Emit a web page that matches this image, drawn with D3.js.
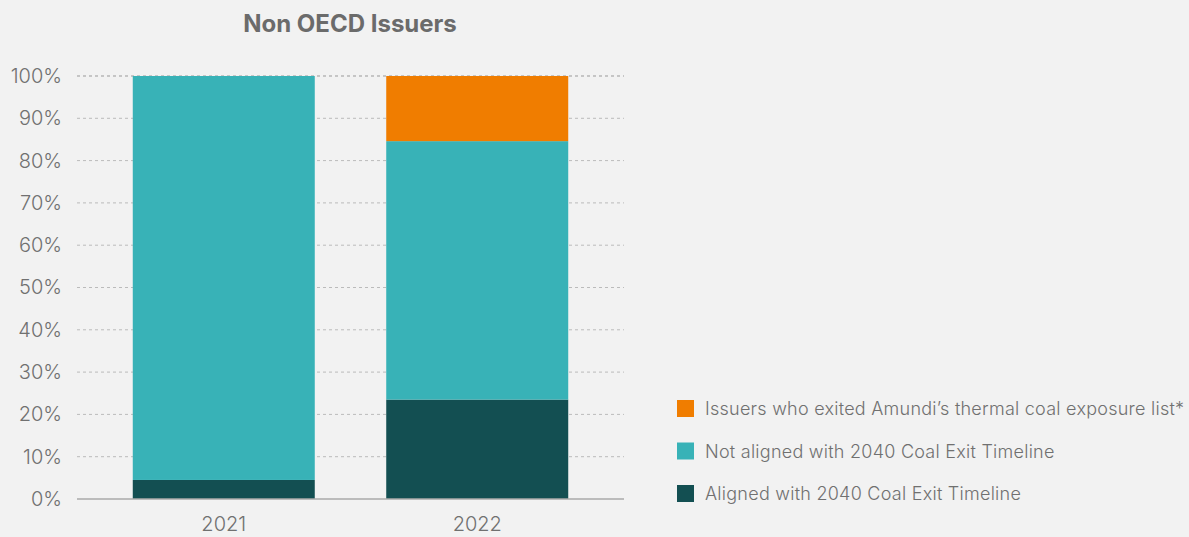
<!DOCTYPE html>
<html>
<head>
<meta charset="utf-8">
<script src="https://cdn.jsdelivr.net/npm/d3@7"></script>
<style>
  html, body { margin: 0; padding: 0; background: #f2f2f2; }
  svg { display: block; font-family: Inter, "Open Sans", sans-serif; }
</style>
</head>
<body>
<svg id="chart" width="1189" height="537"></svg>
<script>
// ── Data ──────────────────────────────────────────────────────────────────────
const years       = ['2021', '2022'];
const aligned     = [4.5, 23.5];   // Aligned with 2040 Coal Exit Timeline
const notAligned  = [95.5, 61.1];  // Not aligned with 2040 Coal Exit Timeline
const exited      = [0, 15.4];     // Issuers who exited the list
const yTicks      = [0, 10, 20, 30, 40, 50, 60, 70, 80, 90, 100];

const seriesNames = [
  'Aligned with 2040 Coal Exit Timeline',
  'Not aligned with 2040 Coal Exit Timeline',
  'Issuers who exited Amundi\u2019s thermal coal exposure list*'
];
const seriesColors = ['#134f52', '#38b2b7', '#f07d00'];

const FONT = 'Inter, "Open Sans", sans-serif';

// ── Layout ────────────────────────────────────────────────────────────────────
const svg = d3.select('#chart');
const plotL = 77, plotR = 624, plotT = 76, plotB = 499;

const x = d3.scaleBand().domain(years).range([plotL, plotR])
  .paddingInner(0.282).paddingOuter(0.22);
const y = d3.scaleLinear().domain([0, 100]).range([plotB, plotT]);

const rows = years.map((yr, i) => ({ year: yr, s0: aligned[i], s1: notAligned[i], s2: exited[i] }));
const stacked = d3.stack().keys(['s0', 's1', 's2'])(rows);

// title
svg.append('text')
  .attr('x', 350).attr('y', 32)
  .attr('text-anchor', 'middle')
  .attr('fill', '#6b6b6b')
  .attr('font-size', 24).attr('font-weight', 700)
  .text('Non OECD Issuers');

// gridlines
svg.append('g').selectAll('line')
  .data(yTicks.filter(d => d > 0))
  .enter().append('line')
  .attr('x1', plotL).attr('x2', plotR)
  .attr('y1', d => y(d)).attr('y2', d => y(d))
  .attr('stroke', d => d === 100 ? '#999' : '#bbb')
  .attr('stroke-width', 1)
  .attr('stroke-dasharray', '3,3');

// bars
svg.append('g').selectAll('g')
  .data(stacked)
  .enter().append('g')
  .attr('fill', (d, i) => seriesColors[i])
  .selectAll('rect')
  .data(d => d)
  .enter().append('rect')
  .attr('x', d => x(d.data.year))
  .attr('width', x.bandwidth())
  .attr('y', d => y(d[1]))
  .attr('height', d => y(d[0]) - y(d[1]));

// y axis labels
const yAxis = svg.append('g')
  .attr('transform', `translate(${plotL},0)`)
  .call(d3.axisLeft(y).tickValues(yTicks).tickFormat(d => d + '%').tickSize(0).tickPadding(15));
yAxis.select('.domain').remove();
yAxis.selectAll('text')
  .attr('fill', '#707070').attr('font-size', 20).attr('font-weight', 300)
  .attr('font-family', FONT);

// x axis
const xAxis = svg.append('g')
  .attr('transform', `translate(0,${plotB})`)
  .call(d3.axisBottom(x).tickSize(0).tickPadding(18));
xAxis.select('.domain').attr('stroke', '#aaa').attr('stroke-width', 1.5)
  .attr('d', `M${plotL},0H${plotR}`);
xAxis.selectAll('text')
  .attr('fill', '#707070').attr('font-size', 20).attr('font-weight', 300)
  .attr('font-family', FONT);

// legend (top to bottom: exited, not aligned, aligned)
const legendOrder = [2, 1, 0];
const leg = svg.append('g').attr('transform', 'translate(677,400)');
legendOrder.forEach((k, i) => {
  const yy = i * 42.5;
  leg.append('rect').attr('x', 0).attr('y', yy).attr('width', 17).attr('height', 17)
    .attr('fill', seriesColors[k]);
  leg.append('text').attr('x', 28).attr('y', yy + 15)
    .attr('fill', '#707070').attr('font-size', 18).attr('font-weight', 300)
    .attr('letter-spacing', 0.25)
    .text(seriesNames[k]);
});
</script>
</body>
</html>
